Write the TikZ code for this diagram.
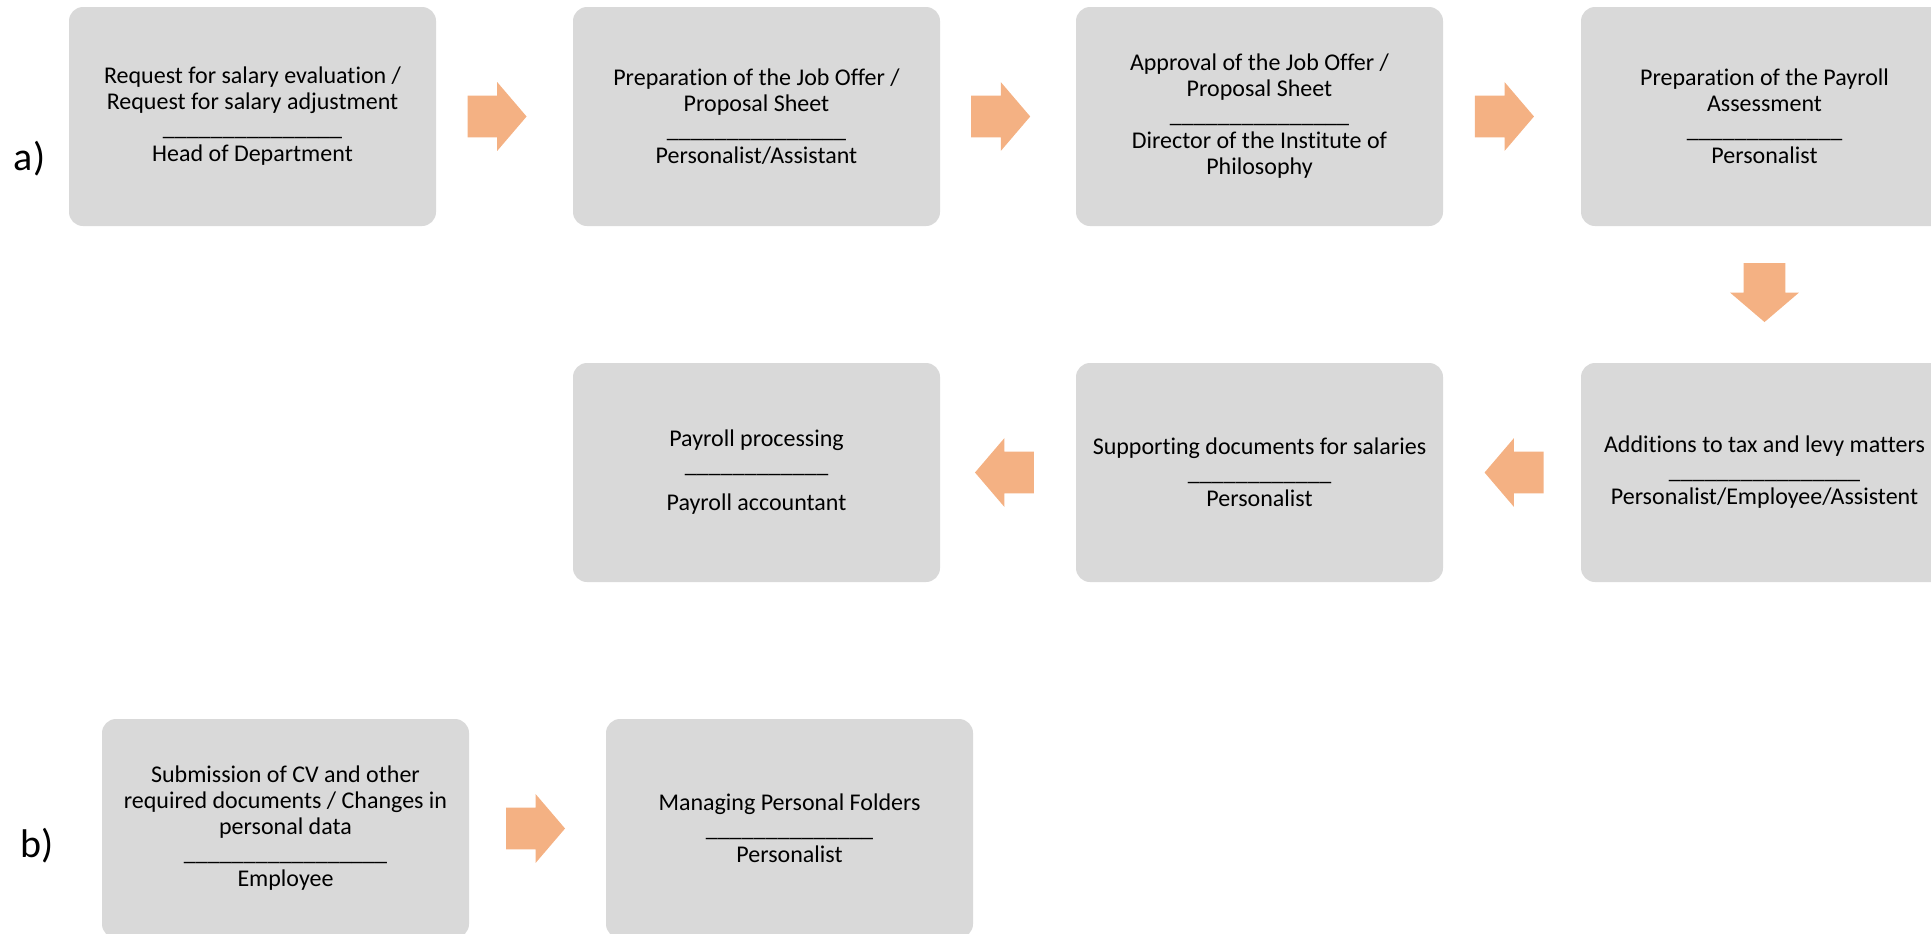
\documentclass[tikz,border=0pt]{standalone}
\usepackage{fontspec}
\setmainfont{Carlito}[Ligatures=NoCommon]
\usetikzlibrary{shapes.arrows,calc}
\definecolor{boxgray}{HTML}{D9D9D9}
\definecolor{arroworange}{HTML}{F4B183}
\newcommand{\sepline}[1]{\foreach \k in {1,...,#1}{\_}}
\tikzset{
  stage/.style={rectangle, rounded corners=7pt, fill=boxgray, minimum width=183.5pt,
    minimum height=109.5pt, inner sep=0pt, align=center, font=\fontsize{12}{13}\selectfont},
  flow/.style={single arrow, fill=arroworange, minimum height=29.5pt, inner xsep=0pt,
    inner ysep=10.25pt, single arrow head extend=6.75pt, single arrow tip angle=99},
  flowdown/.style={flow, shape border rotate=270, inner xsep=10.25pt, inner ysep=0pt},
  part/.style={font=\fontsize{20}{24}\selectfont}
}
\begin{document}
\begin{tikzpicture}[x=0.5pt, y=-0.5pt]
\useasboundingbox (0,0) rectangle (1931,933);
\node[part] (parta) at (29.5,159) {a)};
\node[part] (partb) at (37,846) {b)};
\node[stage] (request) at (252.5,116.5) {Request for salary evaluation /\\Request for salary adjustment\\\sepline{15}\\Head of Department};
\node[stage] (offer) at (756.5,116.5) {Preparation of the Job Offer /\\Proposal Sheet\\\sepline{15}\\Personalist/Assistant};
\node[stage] (approval) at (1259.5,116.5) {Approval of the Job Offer /\\Proposal Sheet\\\sepline{15}\\Director of the Institute of\\Philosophy};
\node[stage] (assess) at (1764.5,116.5) {Preparation of the Payroll\\Assessment\\\sepline{13}\\Personalist};
\node[stage] (tax) at (1764.5,472.5) {Additions to tax and levy matters\\\sepline{16}\\Personalist/Employee/Assistent};
\node[stage] (support) at (1259.5,472.5) {Supporting documents for salaries\\\sepline{12}\\Personalist};
\node[stage] (payroll) at (756.5,472.5) {Payroll processing\\\sepline{12}\\[6pt]Payroll accountant};
\node[stage] (cv) at (285.5,828.5) {Submission of CV and other\\required documents / Changes in\\personal data\\\sepline{17}\\Employee};
\node[stage] (folders) at (789.5,828.5) {Managing Personal Folders\\\sepline{14}\\Personalist};
\node[flow] (f1) at ($(request.east)!0.38!(offer.west)$) {};
\node[flow] (f2) at ($(offer.east)!0.38!(approval.west)$) {};
\node[flow] (f3) at ($(approval.east)!0.38!(assess.west)$) {};
\node[flowdown] (f4) at ($(assess.south)!0.42!(tax.north)$) {};
\node[flow, shape border rotate=180] (f5) at ($(tax.west)!0.42!(support.east)$) {};
\node[flow, shape border rotate=180] (f6) at ($(support.west)!0.46!(payroll.east)$) {};
\node[flow] (f7) at ($(cv.east)!0.42!(folders.west)$) {};
\end{tikzpicture}
\end{document}
